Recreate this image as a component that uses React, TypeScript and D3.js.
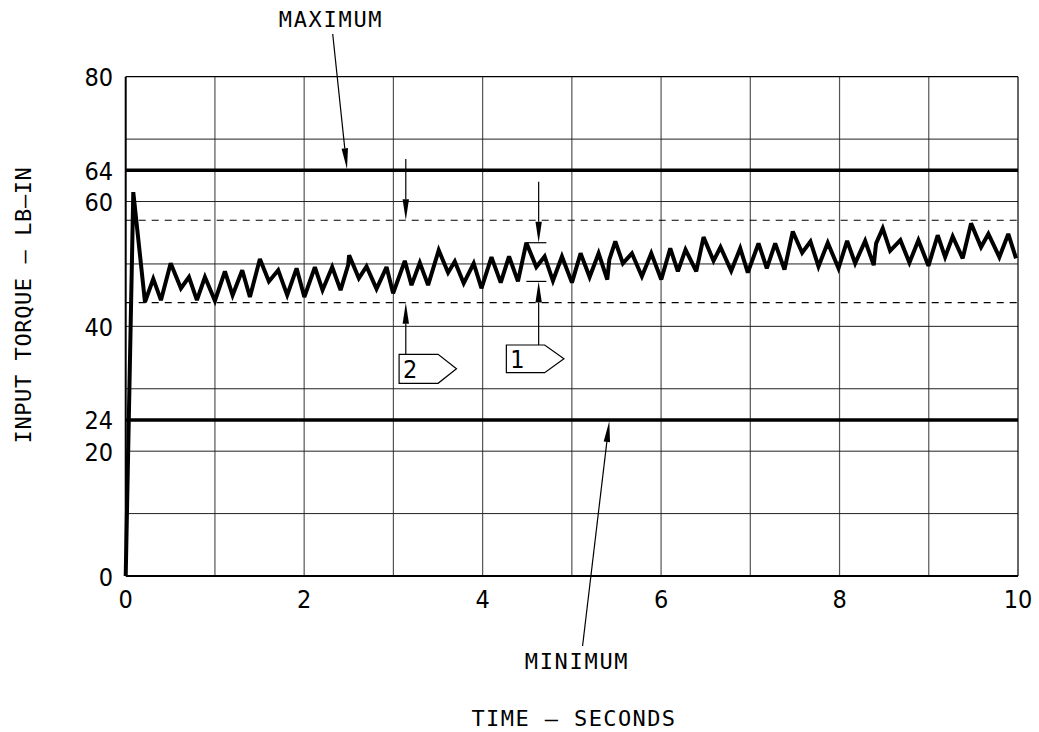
import React from "react";
import * as d3 from "d3";

// time (s) and input torque (lb-in)
const times = [
  0, 0.085, 0.216, 0.309, 0.395, 0.504, 0.619, 0.709, 0.798, 0.888, 1.0, 1.112, 1.198, 1.306, 1.392,
  1.504, 1.605, 1.709, 1.81, 1.915, 2.002, 2.12, 2.206, 2.314, 2.408, 2.493, 2.504, 2.613, 2.699,
  2.811, 2.923, 2.997, 3.128, 3.203, 3.296, 3.389, 3.508, 3.613, 3.688, 3.788, 3.9, 3.987, 4.099,
  4.203, 4.296, 4.396, 4.49, 4.602, 4.695, 4.788, 4.889, 5.001, 5.098, 5.199, 5.3, 5.397, 5.42,
  5.487, 5.572, 5.673, 5.785, 5.89, 6.002, 6.103, 6.188, 6.274, 6.394, 6.476, 6.588, 6.666, 6.786,
  6.887, 6.972, 7.092, 7.185, 7.279, 7.383, 7.476, 7.581, 7.674, 7.764, 7.868, 7.988, 8.085, 8.175,
  8.287, 8.383, 8.41, 8.484, 8.567, 8.682, 8.783, 8.884, 8.996, 9.1, 9.183, 9.268, 9.38, 9.474,
  9.586, 9.668, 9.791, 9.891, 9.978,
];
const torque = [
  0, 61.5, 43.9, 47.6, 44.2, 50.1, 46.1, 47.9, 44.2, 47.9, 44.1, 48.8, 45.0, 49.0, 44.7, 50.8, 47.2,
  49.0, 45.0, 49.3, 44.7, 49.5, 45.8, 49.5, 45.8, 49.8, 51.4, 47.7, 49.6, 46.0, 49.5, 45.3, 50.5,
  46.6, 50.2, 46.6, 52.2, 48.6, 50.4, 46.9, 50.1, 46.1, 51.1, 47.0, 51.2, 47.2, 53.4, 49.5, 51.2,
  47.3, 51.2, 47.0, 51.7, 47.9, 51.7, 47.5, 50.7, 53.6, 50.1, 51.7, 48.0, 51.7, 47.5, 52.5, 48.8,
  52.3, 48.8, 54.3, 50.5, 52.7, 48.9, 52.5, 48.6, 53.3, 49.3, 53.3, 49.1, 55.2, 51.8, 53.6, 49.6,
  53.4, 49.3, 53.7, 50.1, 53.7, 49.8, 53.3, 55.7, 52.1, 53.8, 50.2, 53.8, 49.7, 54.6, 51.1, 54.4,
  50.9, 56.5, 52.7, 54.8, 51.1, 54.8, 50.9,
];

const xTicks = [0, 2, 4, 6, 8, 10];
const yTicks = [0, 20, 40, 60, 80];
const xGrid = [1, 2, 3, 4, 5, 6, 7, 8, 9];
const yGrid = [10, 20, 30, 40, 50, 60, 70];

// limit lines: plotted level, tick label, name
const limitValues = [65, 25];
const limitTickLabels = ["64", "24"];
const limitNames = ["MAXIMUM", "MINIMUM"];

// dashed band
const bandValues = [57, 43.8];

const W = 1039;
const H = 732;
const x = d3.scaleLinear().domain([0, 10]).range([125.7, 1018]);
const y = d3.scaleLinear().domain([0, 80]).range([576, 76.7]);

const mono = "'DejaVu Sans Mono', monospace";
const num = "'DejaVu Sans Condensed', 'DejaVu Sans', sans-serif";

function Arrow({ x1, y1, x2, y2, len = 21, half = 3.2 }) {
  // tip at (x2, y2)
  const a = Math.atan2(y2 - y1, x2 - x1);
  const bx = x2 - len * Math.cos(a);
  const by = y2 - len * Math.sin(a);
  const px = -Math.sin(a) * half;
  const py = Math.cos(a) * half;
  return (
    <g>
      <line x1={x1} y1={y1} x2={bx} y2={by} stroke="#000" strokeWidth={1.2} />
      <path d={`M${x2},${y2}L${bx + px},${by + py}L${bx - px},${by - py}Z`} fill="#000" />
    </g>
  );
}

function Tag({ left, top, h, flat, point, label }) {
  const d = `M${left},${top}H${flat}L${point},${top + h / 2}L${flat},${top + h}H${left}Z`;
  return (
    <g>
      <path d={d} fill="#fff" stroke="#000" strokeWidth={1.2} />
      <text x={left + 4} y={top + h / 2 + 1} dominantBaseline="central" fontFamily={num} fontSize={25}>
        {label}
      </text>
    </g>
  );
}

export default function App() {
  const line = d3
    .line<number>()
    .x((d, i) => x(times[i]))
    .y((d) => y(d));

  const t2 = 3.139;
  const t1 = 4.628;

  return (
    <svg
      width={W}
      height={H}
      style={{ position: "absolute", left: 0, top: 0, background: "#fff" }}
    >
      {/* grid */}
      {xGrid.map((v) => (
        <line key={"gx" + v} x1={x(v)} x2={x(v)} y1={y(80)} y2={y(0)} stroke="#555" strokeWidth={1.2} />
      ))}
      {yGrid.map((v) => (
        <line key={"gy" + v} x1={x(0)} x2={x(10)} y1={y(v)} y2={y(v)} stroke="#222" strokeWidth={1} />
      ))}
      {bandValues.map((v) => (
        <line
          key={"b" + v}
          x1={x(0)}
          x2={x(10)}
          y1={y(v)}
          y2={y(v)}
          stroke="#000"
          strokeWidth={1.1}
          strokeDasharray="7,6"
        />
      ))}
      {/* frame */}
      <line x1={x(0)} x2={x(10)} y1={y(80)} y2={y(80)} stroke="#000" strokeWidth={1.2} />
      <line x1={x(10)} x2={x(10)} y1={y(80)} y2={y(0)} stroke="#000" strokeWidth={1.2} />
      <line x1={x(0)} x2={x(0)} y1={y(80)} y2={y(0)} stroke="#000" strokeWidth={2} />
      <line x1={x(0)} x2={x(10)} y1={y(0)} y2={y(0)} stroke="#000" strokeWidth={2} />

      {/* limits */}
      {limitValues.map((v) => (
        <line key={"l" + v} x1={x(0)} x2={x(10)} y1={y(v)} y2={y(v)} stroke="#000" strokeWidth={3.5} />
      ))}

      {/* trace */}
      <path d={line(torque) || ""} fill="none" stroke="#000" strokeWidth={4} strokeLinejoin="miter" strokeMiterlimit={3} />

      {/* y ticks */}
      {yTicks.map((v) => (
        <text key={"ty" + v} x={113} y={y(v) + 1} textAnchor="end" dominantBaseline="central" fontFamily={num} fontSize={25}>
          {v}
        </text>
      ))}
      {limitValues.map((v, i) => (
        <text key={"tl" + v} x={113} y={y(v) + 1} textAnchor="end" dominantBaseline="central" fontFamily={num} fontSize={25}>
          {limitTickLabels[i]}
        </text>
      ))}
      {/* x ticks */}
      {xTicks.map((v) => (
        <text key={"tx" + v} x={x(v)} y={599} textAnchor="middle" dominantBaseline="central" fontFamily={num} fontSize={25}>
          {v}
        </text>
      ))}

      {/* axis titles */}
      <text
        transform={`translate(23,305) rotate(-90)`}
        textAnchor="middle"
        dominantBaseline="central"
        fontFamily={mono}
        fontSize={22}
        letterSpacing={0.6}
      >
        INPUT TORQUE – LB–IN
      </text>
      <text x={574} y={718} textAnchor="middle" dominantBaseline="central" fontFamily={mono} fontSize={22} letterSpacing={1.4}>
        TIME – SECONDS
      </text>

      {/* MAXIMUM / MINIMUM callouts */}
      <text x={331} y={19} textAnchor="middle" dominantBaseline="central" fontFamily={mono} fontSize={22} letterSpacing={1.7}>
        {limitNames[0]}
      </text>
      <Arrow x1={x(2.32)} y1={34} x2={x(2.48)} y2={y(limitValues[0]) - 1} />
      <text x={577} y={661} textAnchor="middle" dominantBaseline="central" fontFamily={mono} fontSize={22} letterSpacing={1.7}>
        {limitNames[1]}
      </text>
      <Arrow x1={x(5.12)} y1={646} x2={x(5.42)} y2={y(limitValues[1]) + 1} />

      {/* callout 2: band width */}
      <Arrow x1={x(t2)} y1={y(66.8)} x2={x(t2)} y2={y(bandValues[0])} />
      <Arrow x1={x(t2)} y1={354} x2={x(t2)} y2={y(bandValues[1])} />
      <Tag left={x(t2) - 6.7} top={354.3} h={29} flat={x(t2) + 32.3} point={x(t2) + 50.7} label="2" />

      {/* callout 1: peak-to-peak */}
      <line x1={x(t1) - 12.3} x2={x(t1) + 7.7} y1={y(53.4)} y2={y(53.4)} stroke="#000" strokeWidth={1.2} />
      <line x1={x(t1) - 12.3} x2={x(t1) + 7.7} y1={y(47.2)} y2={y(47.2)} stroke="#000" strokeWidth={1.2} />
      <Arrow x1={x(t1)} y1={181.7} x2={x(t1)} y2={y(53.4)} />
      <Arrow x1={x(t1)} y1={345} x2={x(t1)} y2={y(47.2)} />
      <Tag left={x(t1) - 32.3} top={345} h={27.7} flat={x(t1) + 6} point={x(t1) + 25.3} label="1" />
    </svg>
  );
}
